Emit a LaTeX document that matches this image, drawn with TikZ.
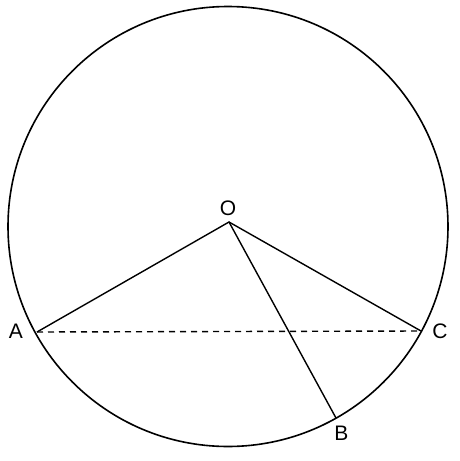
\documentclass[tikz,border=0pt]{standalone}
\usepackage{fontspec}
\setmainfont{Liberation Sans}
\begin{document}
\begin{tikzpicture}[x=1pt,y=-1pt,
  seg/.style={line width=1.4pt,black},
  ring/.style={line width=1.6pt,black},
  chord/.style={line width=1.4pt,dash pattern=on 6pt off 5pt},
  lbl/.style={font=\fontsize{21}{25}\selectfont,inner sep=0pt}]
\useasboundingbox (0,0) rectangle (459,461);
\draw[ring] (228,226.5) circle (220);
\coordinate (O) at (229,222);
\coordinate (A) at (37,332);
\coordinate (C) at (421,331);
\coordinate (B) at (336,418);
\node[lbl] (lO) at (228,208.5) {O};
\node[lbl] (lA) at (16,331) {A};
\node[lbl] (lC) at (440,331.5) {C};
\node[lbl] (lB) at (341.5,433.5) {B};
\draw[seg] (A) -- (O) -- (C);
\draw[seg] (O) -- (B);
\draw[chord] (A) -- (C);
\end{tikzpicture}
\end{document}
